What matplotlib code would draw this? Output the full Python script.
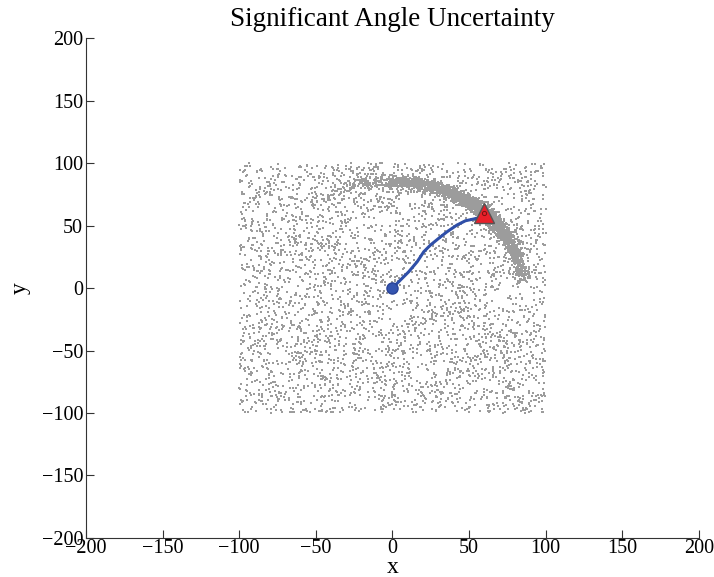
import numpy as np
import matplotlib
matplotlib.use('Agg')
import matplotlib.pyplot as plt
import matplotlib.transforms as mtransforms

# particle cloud description
n_uniform = 3800          # particles spread over the search box
box_half = 100            # box is [-100, 100] x [-100, 100]
n_arc = 2600              # particles collapsed onto the range ring
arc_radius = 85
arc_radial_sd = 2.6
arc_angle_mean = 52       # degrees
arc_angle_sd = 26
arc_angle_lim = (3, 130)

# robot path (blue) and target (red triangle)
path_x = [0, 5.2, 10.6, 16.1, 20.4, 24.8, 30.2, 35.6, 42.1, 47.6, 53.0, 57.3, 59.5]
path_y = [0, 6.4, 13.0, 21.0, 29.0, 34.4, 39.8, 45.0, 50.4, 53.8, 55.2, 56.6, 58.5]
start_xy = (0, 0)
target_xy = (60, 60)

title = 'Significant Angle Uncertainty'
ticks = [-200, -150, -100, -50, 0, 50, 100, 150, 200]

# sampled particle set (fixed seed so the picture is reproducible)
rng = np.random.default_rng(7)
ux = rng.uniform(-box_half, box_half, n_uniform)
uy = rng.uniform(-box_half, box_half, n_uniform)
ang = rng.normal(arc_angle_mean, arc_angle_sd, n_arc * 2)
ang = ang[(ang > arc_angle_lim[0]) & (ang < arc_angle_lim[1])][:n_arc]
rad = arc_radius + rng.normal(0, arc_radial_sd, ang.size)
ax_ = rad * np.cos(np.radians(ang))
ay_ = rad * np.sin(np.radians(ang))

plt.rcParams['font.family'] = ['Liberation Serif', 'DejaVu Serif']

fig = plt.figure(figsize=(7.14, 5.77), dpi=100)
ax = fig.add_axes([0.1204, 0.0676, 0.8586, 0.8665])

pc = '#9c9c9c'
ax.scatter(ux, uy, s=1.3, c=pc, marker='s', linewidths=0)
ax.scatter(ax_, ay_, s=1.8, c=pc, marker='s', linewidths=0)

ax.plot(path_x, path_y, color='#2f4fa8', lw=2.2, solid_capstyle='round')
ax.plot(*start_xy, marker='o', ms=8, mfc='#3555b0', mec='#2a4498', mew=1)
ax.plot(*target_xy, marker='^', ms=14, mfc='#e8202a', mec='#555555', mew=1)
ax.plot(*target_xy, marker='o', ms=3, mfc='none', mec='#7a1010', mew=0.7)

ax.set_xlim(-200, 200)
ax.set_ylim(-200, 200)
ax.set_xticks(ticks)
ax.set_yticks(ticks)
ax.set_xticklabels([str(t).replace('-', '\u2212') for t in ticks])
ax.set_yticklabels([str(t).replace('-', '\u2212') for t in ticks])
# MATLAB puts y tick labels a touch above the tick
shift = mtransforms.ScaledTranslation(0, 3 / 100, fig.dpi_scale_trans)
for lab in ax.get_yticklabels():
    lab.set_transform(lab.get_transform() + shift)
for s in ['top', 'right']:
    ax.spines[s].set_visible(False)
for s in ['left', 'bottom']:
    ax.spines[s].set_color('#333333')
    ax.spines[s].set_linewidth(0.8)
ax.tick_params(direction='in', length=6, width=0.8, color='#333333',
               labelsize=14.5, pad=2)
ax.tick_params(axis='x', pad=1)

ax.set_xlabel('x', fontsize=17, va='baseline')
ax.xaxis.set_label_coords(0.5, -0.07)
ax.set_ylabel('y', fontsize=17, labelpad=8)
ax.set_title(title, fontsize=19.5, pad=9)

fig.savefig('out.png', dpi=100)
